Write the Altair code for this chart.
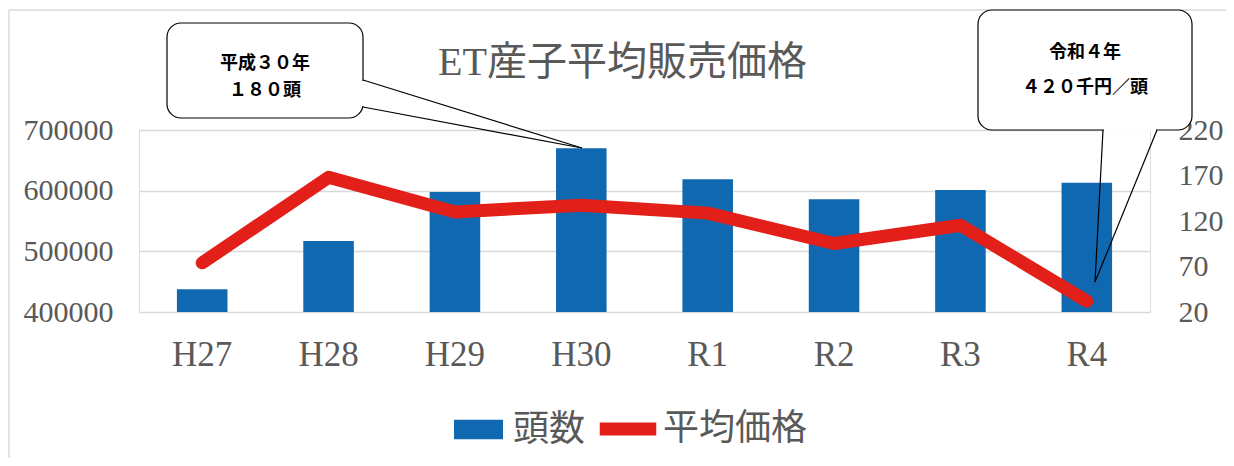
import altair as alt
import pandas as pd

categories = ["H27", "H28", "H29", "H30", "R1", "R2", "R3", "R4"]
heads = [45, 98, 152, 200, 166, 144, 154, 162]
prices = [481000, 622000, 565000, 576000, 563000, 513000, 543000, 418000]

title_text = "ET産子平均販売価格"
bar_name = "頭数"
line_name = "平均価格"
callout_left = ["平成３０年", "１８０頭"]
callout_right = ["令和４年", "４２０千円／頭"]

price_ticks = [400000, 500000, 600000, 700000]
head_ticks = [20, 70, 120, 170, 220]

df = pd.DataFrame({"cat": categories, "heads": heads, "price": prices,
                   "s_bar": bar_name, "s_line": line_name})
one = pd.DataFrame({"k": [0]})

W, H = 1011, 182
BLUE = "#1068B0"
RED = "#E31F1A"
GRAY = "#595959"
SERIF = "Liberation Serif, Noto Sans CJK JP"
JP = "Noto Sans CJK JP"

xenc = alt.X("cat:N", sort=categories,
             scale=alt.Scale(paddingInner=0.6, paddingOuter=0.3),
             axis=alt.Axis(title=None, labelAngle=0, domain=False, ticks=False,
                           labelPadding=25, labelFontSize=35, labelFont=SERIF,
                           labelColor=GRAY))

bars = alt.Chart(df).mark_bar(color=BLUE).encode(
    x=xenc,
    y=alt.Y("heads:Q", scale=alt.Scale(domain=[20, 220], zero=False),
            axis=alt.Axis(orient="right", values=head_ticks, title=None, grid=False,
                          domain=False, ticks=False, labelPadding=28,
                          labelFontSize=30, labelFont=SERIF, labelColor=GRAY)),
    y2=alt.datum(20),
    fill=alt.Fill("s_bar:N", scale=alt.Scale(domain=[bar_name], range=[BLUE]),
                  legend=alt.Legend(title=None, orient="none", legendX=315, legendY=275,
                                    symbolType="M-1,-0.4H1V0.4H-1Z", symbolSize=2401,
                                    symbolStrokeWidth=0, labelFontSize=36,
                                    labelFont=SERIF, labelColor=GRAY, labelOffset=10)),
)

line = alt.Chart(df).mark_line(strokeWidth=13, strokeCap="round", strokeJoin="round").encode(
    x=alt.X("cat:N", sort=categories),
    y=alt.Y("price:Q", scale=alt.Scale(domain=[400000, 700000], zero=False),
            axis=alt.Axis(orient="left", values=price_ticks, title=None, format="d",
                          grid=True, gridColor="#D9D9D9", gridWidth=1.5,
                          domain=False, ticks=False, labelPadding=26,
                          labelFontSize=30, labelFont=SERIF, labelColor=GRAY)),
    stroke=alt.Stroke("s_line:N", scale=alt.Scale(domain=[line_name], range=[RED]),
                      legend=alt.Legend(title=None, orient="none", legendX=454, legendY=264,
                                        symbolType="stroke", symbolSize=3192,
                                        symbolStrokeWidth=13, labelFontSize=36,
                                        labelFont=SERIF, labelColor=GRAY, labelOffset=0)),
)

# frame (top and left border)
frame_top = alt.Chart(one).mark_rule(color="#D9D9D9", strokeWidth=1.5).encode(
    x=alt.value(-130), x2=alt.value(1087), y=alt.value(-120))
frame_left = alt.Chart(one).mark_rule(color="#D9D9D9", strokeWidth=1.5).encode(
    x=alt.value(-130), y=alt.value(-120), y2=alt.value(328))

def box(x1, x2, y1, y2):
    return alt.Chart(one).mark_rect(fill="white", stroke="black", strokeWidth=1.2,
                                    cornerRadius=14).encode(
        x=alt.value(x1), x2=alt.value(x2), y=alt.value(y1), y2=alt.value(y2))

def seg(x1, y1, x2, y2, color="black", w=1.2):
    return alt.Chart(one).mark_rule(color=color, strokeWidth=w).encode(
        x=alt.value(x1), y=alt.value(y1), x2=alt.value(x2), y2=alt.value(y2))

def txt(x, y, s):
    return alt.Chart(one).mark_text(text=s, font=JP, fontSize=18, fontWeight="bold",
                                    color="black", align="center", baseline="middle").encode(
        x=alt.value(x), y=alt.value(y))

# left callout
lb = box(28, 224, -107, -12)
lcover = seg(224, -49, 224, -24, color="white", w=3)
lt1 = seg(224, -50, 443, 18)
lt2 = seg(224, -23, 443, 18)
ltx = txt(126, -66, callout_left[0]) + txt(126, -39, callout_left[1])

# right callout
rb = box(839, 1053, -120, 0)
rcover = seg(965, 0, 1017, 0, color="white", w=3)
rt1 = seg(964, 0, 956, 152)
rt2 = seg(1018, 0, 956, 152)
rtx = txt(946, -77, callout_right[0]) + txt(946, -42, callout_right[1])

main = alt.layer(bars, line).resolve_scale(y="independent")

chart = alt.layer(
    main, frame_top, frame_left,
    lb, lcover, lt1, lt2, ltx,
    rb, rcover, rt1, rt2, rtx,
).properties(
    width=W, height=H,
    title=alt.TitleParams(title_text, anchor="middle", dx=-22, offset=-74,
                          font=SERIF, fontSize=40, fontWeight="normal", color=GRAY),
    autosize=alt.AutoSizeParams(type="none"),
    padding={"left": 131, "top": 122, "right": 76, "bottom": 146},
).configure_view(stroke=None).configure(background="white")

chart.save("out.html", embed_options={"renderer": "svg", "actions": False})
